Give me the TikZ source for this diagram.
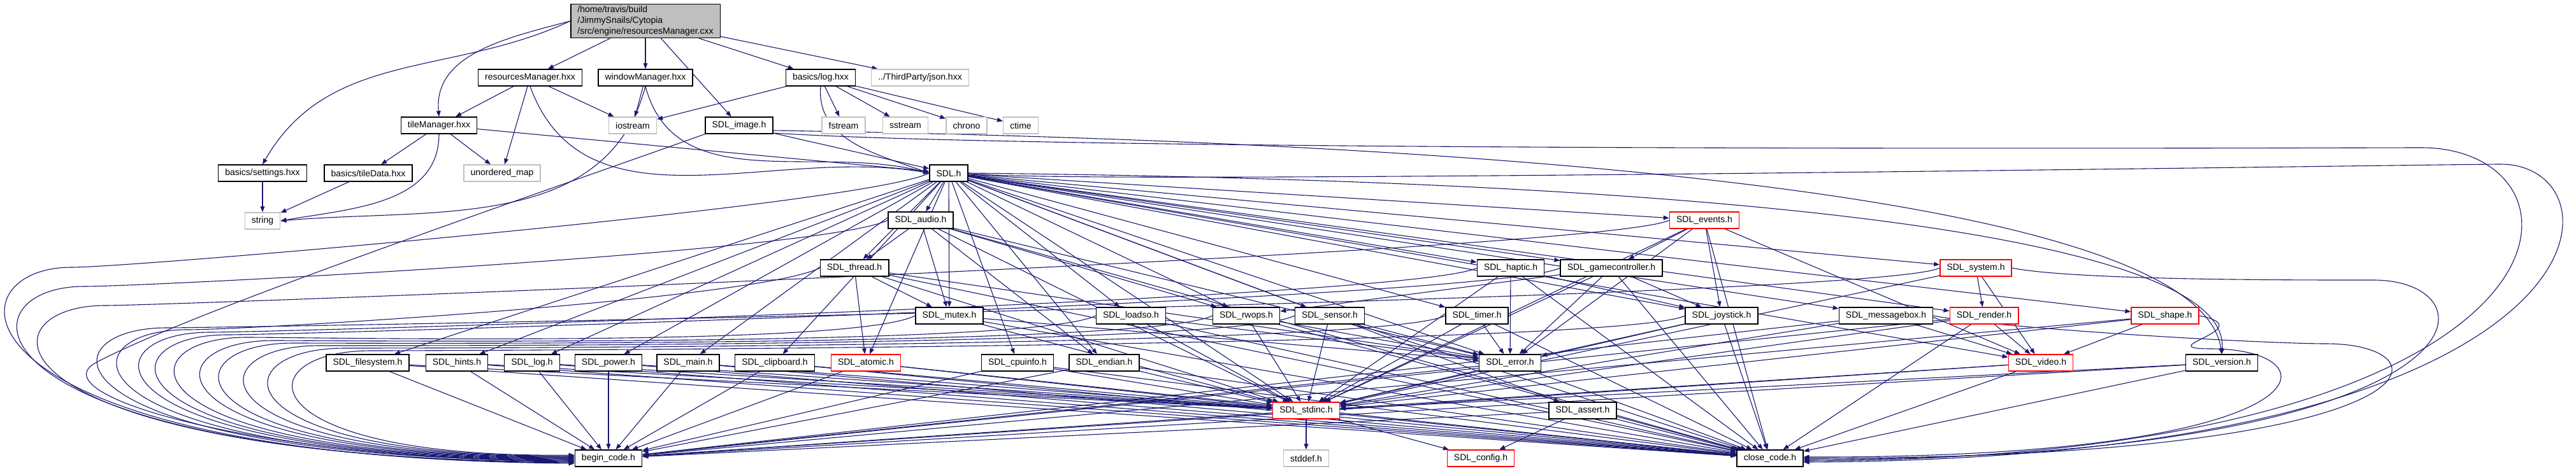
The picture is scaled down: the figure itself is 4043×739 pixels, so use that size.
\documentclass[tikz,border=0pt]{standalone}
\usepackage{fontspec}
\setmainfont{Liberation Sans}
\usetikzlibrary{arrows.meta, backgrounds}
\definecolor{edgeblue}{RGB}{25,25,112}
\definecolor{boxgray}{RGB}{191,191,191}
\tikzset{
    file/.style={rectangle, draw=black, fill=white, line width=0.7pt, minimum height=13pt,
        inner xsep=5.3pt, inner ysep=0pt, font=\fontsize{7}{8.4}\selectfont},
    trunc/.style={file, draw=red},
    ext/.style={file, draw=boxgray},
    rootfile/.style={file, fill=boxgray, align=left, inner ysep=1.6pt},
    dep/.style={draw=edgeblue, line width=0.55pt, -{Triangle[length=4.5pt,width=3.4pt]}}
}

\begin{document}
\begin{tikzpicture}[x=0.5pt, y=-0.5pt]
        \useasboundingbox (0,0) rectangle (4043,739);
        % ----------------------------------------------------
        % Project files
        % ----------------------------------------------------
        \node[rootfile] (root) at (1013,33) {/home/travis/build\\/JimmySnails/Cytopia\\/src/engine/resourcesManager.cxx};
        \node[file] (rmh) at (832,122) {resourcesManager.hxx};
        \node[file] (wmh) at (1013,122) {windowManager.hxx};
        \node[file] (logh) at (1288,122) {basics/log.hxx};
        \node[ext] (json) at (1444,122) {../ThirdParty/json.hxx};
        \node[file] (tmh) at (689,197) {tileManager.hxx};
        \node[ext] (iostream) at (993,197) {iostream};
        \node[file] (image) at (1160,197) {SDL\_image.h};
        \node[ext] (fstream) at (1324,197) {fstream};
        \node[ext] (sstream) at (1421,197) {sstream};
        \node[ext] (chrono) at (1517,197) {chrono};
        \node[ext] (ctime) at (1602,197) {ctime};
        \node[file] (settings) at (412,272) {basics/settings.hxx};
        \node[file] (tiledata) at (578,272) {basics/tileData.hxx};
        \node[ext] (umap) at (788,272) {unordered\_map};
        \node[ext] (string) at (412,347) {string};

        % ----------------------------------------------------
        % SDL headers
        % ----------------------------------------------------
        \node[file] (sdl) at (1489,272) {SDL.h};
        \node[file] (audio) at (1445,346) {SDL\_audio.h};
        \node[trunc] (events) at (2675,346) {SDL\_events.h};
        \node[file] (thread) at (1341,421) {SDL\_thread.h};
        \node[file] (haptic) at (2371,421) {SDL\_haptic.h};
        \node[file] (gamectl) at (2529,421) {SDL\_gamecontroller.h};
        \node[trunc] (system) at (3101,421) {SDL\_system.h};
        \node[file] (mutex) at (1490,496) {SDL\_mutex.h};
        \node[file] (loadso) at (1775,496) {SDL\_loadso.h};
        \node[file] (rwops) at (1956,496) {SDL\_rwops.h};
        \node[file] (sensor) at (2087,496) {SDL\_sensor.h};
        \node[file] (timer) at (2318,496) {SDL\_timer.h};
        \node[file] (joystick) at (2702,496) {SDL\_joystick.h};
        \node[file] (msgbox) at (2960,496) {SDL\_messagebox.h};
        \node[trunc] (render) at (3114,496) {SDL\_render.h};
        \node[trunc] (shape) at (3398,496) {SDL\_shape.h};
        \node[file] (filesystem) at (577,570) {SDL\_filesystem.h};
        \node[file] (hints) at (717,570) {SDL\_hints.h};
        \node[file] (sdllog) at (835,570) {SDL\_log.h};
        \node[file] (power) at (955,570) {SDL\_power.h};
        \node[file] (sdlmain) at (1080,570) {SDL\_main.h};
        \node[file] (clipboard) at (1216,570) {SDL\_clipboard.h};
        \node[trunc] (atomic) at (1359,570) {SDL\_atomic.h};
        \node[file] (cpuinfo) at (1597,570) {SDL\_cpuinfo.h};
        \node[file] (endian) at (1733,570) {SDL\_endian.h};
        \node[file] (error) at (2370,570) {SDL\_error.h};
        \node[trunc] (video) at (3203,570) {SDL\_video.h};
        \node[file] (version) at (3487,570) {SDL\_version.h};
        \node[trunc] (stdinc) at (2050,645) {SDL\_stdinc.h};
        \node[file] (assert) at (2484,645) {SDL\_assert.h};
        \node[file] (begincode) at (955,720) {begin\_code.h};
        \node[ext] (stddef) at (2050,720) {stddef.h};
        \node[trunc] (config) at (2324,720) {SDL\_config.h};
        \node[file] (closecode) at (2778,720) {close\_code.h};

        \begin{scope}[on background layer]
            % ----------------------------------------------------
            % Includes of the project files
            % ----------------------------------------------------
            \foreach \a/\b in {root/rmh, root/wmh, root/logh, root/json, root/image,
                rmh/tmh, rmh/umap, rmh/iostream, wmh/iostream,
                tmh/tiledata, tmh/umap, tmh/sdl, tiledata/string, settings/string,
                logh/iostream, logh/fstream, logh/sstream, logh/chrono, logh/ctime, image/sdl}
                \draw[dep] (\a) -- (\b);
            \draw[dep] (root.west) to[out=205, in=60] (settings.north);
            \draw[dep] (root.west) to[out=195, in=95] (tmh.north);
            \draw[dep] (rmh.south) to[out=-70, in=170] (sdl.west);
            \draw[dep] (wmh.south) to[out=-75, in=165] (sdl.west);
            \draw[dep] (wmh.south) to[out=-105, in=5] (string.east);
            \draw[dep] (tmh.south) to[out=-90, in=10] (string.east);
            \draw[dep] (logh.south) to[out=-95, in=160] (sdl.west);
            % SDL_image.h: out under the stream boxes, and down to begin_code.h
            \draw[dep] ([yshift=-4pt]image.east) .. controls (2300,222) and (3450,300) .. (version.north);
            \draw[dep] ([yshift=-6pt]image.east) .. controls (1700,240) and (3700,232) .. (3800,232)
                .. controls (4090,232) and (4090,720) .. ([yshift=-2pt]closecode.east);
            \draw[dep] (image.south west) .. controls (800,320) and (300,490) .. (150,570)
                .. controls (60,620) and (400,722) .. ([yshift=-2.5pt]begincode.west);

            % ----------------------------------------------------
            % SDL.h
            % ----------------------------------------------------
            \foreach \b in {sdlmain, stdinc, assert, atomic, audio, clipboard, cpuinfo, endian,
                error, events, filesystem, gamectl, haptic, hints, joystick, loadso, sdllog,
                msgbox, mutex, power, render, rwops, sensor, shape, system, thread, timer, video}
                \draw[dep] (sdl) -- (\b);
            \draw[dep] (sdl.east) .. controls (2800,285) and (3500,380) .. (version.north);

            % ----------------------------------------------------
            % Headers included by the SDL headers
            % ----------------------------------------------------
            \foreach \a/\b in {audio/thread, audio/mutex, audio/rwops, audio/endian, audio/error,
                audio/stdinc, audio/closecode, thread/mutex, thread/atomic, thread/error,
                thread/stdinc, thread/closecode, haptic/joystick, gamectl/joystick, gamectl/rwops,
                events/gamectl, events/joystick, events/video, msgbox/video, system/render,
                system/video, system/stdinc, render/video, shape/video, msgbox/stdinc,
                msgbox/begincode, shape/stdinc, shape/begincode, stdinc/stddef, stdinc/config,
                stdinc/closecode, stdinc/begincode, assert/config, assert/closecode, assert/begincode}
                \draw[dep] (\a) -- (\b);
            \foreach \a in {mutex, loadso, rwops, sensor, timer, haptic, gamectl, joystick, events}
                \foreach \b in {error, stdinc, closecode}
                    \draw[dep] (\a) -- (\b);
            \foreach \a in {filesystem, hints, sdllog, power, sdlmain, clipboard, atomic, cpuinfo,
                endian, error, render, video, version}
                \foreach \b in {stdinc, closecode, begincode}
                    \draw[dep] (\a) -- (\b);

            % long ways round to begin_code.h (left) and close_code.h (right)
            \foreach \s/\ly/\L/\dy in {sdl/420/-88/-4pt, audio/450/-68/-3.5pt, events/480/-35/-3pt,
                system/515/62/-2pt, thread/518/94/-1.5pt, haptic/522/130/-1pt,
                gamectl/526/157/-0.5pt, mutex/530/188/0pt, loadso/535/230/0.5pt, rwops/539/261/1pt,
                sensor/543/302/1.5pt, timer/547/342/2pt, joystick/551/383/2.5pt}
                \draw[dep] (\s.west) .. controls +(-100,50) and (\L+300,\ly) .. (\L+200,\ly)
                    .. controls (\L,\ly) and (\L,720) .. ([yshift=\dy]begincode.west);
            \foreach \s/\ly/\R/\dy in {sdl/258/4125/-3pt, system/440/3925/-1pt,
                msgbox/540/3850/0pt, shape/548/3670/1pt}
                \draw[dep] (\s.east) .. controls +(100,20) and (\R-300,\ly) .. (\R-200,\ly)
                    .. controls (\R,\ly) and (\R,720) .. ([yshift=\dy]closecode.east);
        \end{scope}
\end{tikzpicture}
\end{document}
